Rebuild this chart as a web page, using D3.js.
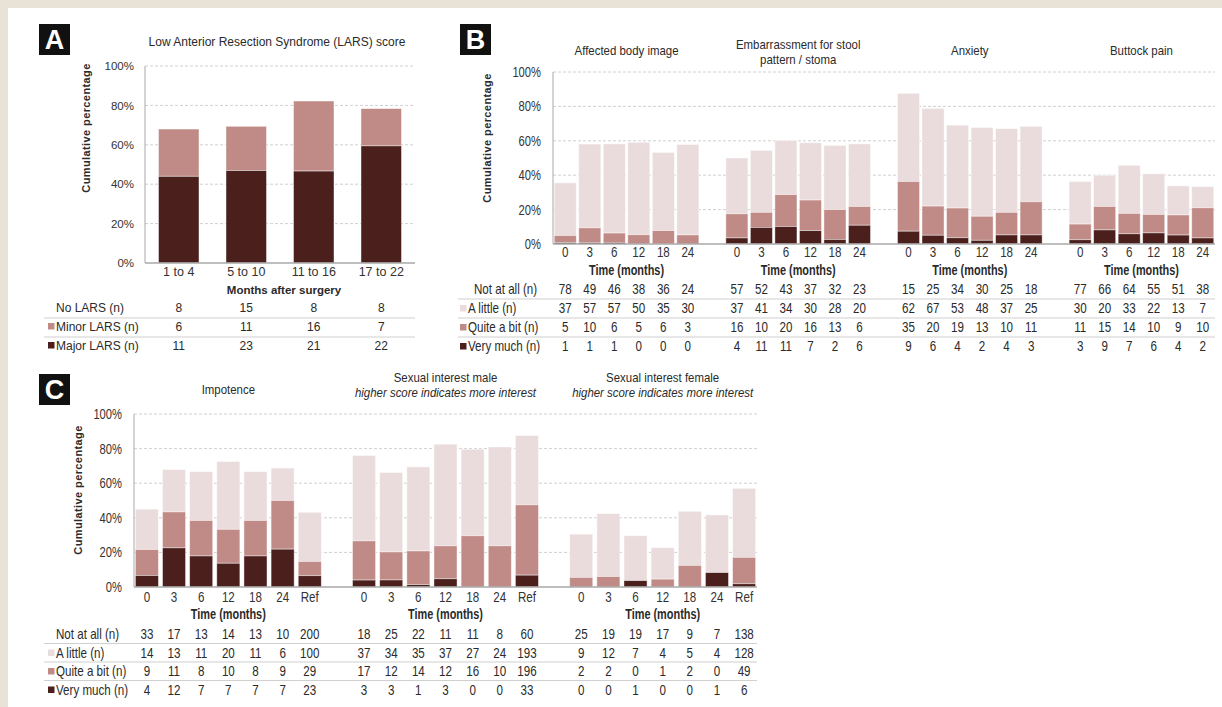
<!DOCTYPE html>
<html>
<head>
<meta charset="utf-8">
<script src="https://cdn.jsdelivr.net/npm/d3@7"></script>
<style>
  html, body { margin: 0; padding: 0; background: #e9e3d7; }
  svg { display: block; }
  text { font-family: "Liberation Sans", Arial, sans-serif; fill: #2a2a2a; }
</style>
</head>
<body>
<svg id="chart" width="1222" height="707"></svg>
<script>
// ---- Panel A: LARS score counts per follow-up window ----
const larsWindows = ["1 to 4", "5 to 10", "11 to 16", "17 to 22"];
const larsNone  = [8, 15, 8, 8];
const larsMinor = [6, 11, 16, 7];
const larsMajor = [11, 23, 21, 22];

// ---- Panel B: quality-of-life items, rows = Not at all / A little / Quite a bit / Very much ----
const timesB = ["0", "3", "6", "12", "18", "24"];
const bodyImage     = [[78, 49, 46, 38, 36, 24], [37, 57, 57, 50, 35, 30], [5, 10, 6, 5, 6, 3],      [1, 1, 1, 0, 0, 0]];
const embarrassment = [[57, 52, 43, 37, 32, 23], [37, 41, 34, 30, 28, 20], [16, 10, 20, 16, 13, 6],  [4, 11, 11, 7, 2, 6]];
const anxiety       = [[15, 25, 34, 30, 25, 18], [62, 67, 53, 48, 37, 25], [35, 20, 19, 13, 10, 11], [9, 6, 4, 2, 4, 3]];
const buttockPain   = [[77, 66, 64, 55, 51, 38], [30, 20, 33, 22, 13, 7],  [11, 15, 14, 10, 9, 10],  [3, 9, 7, 6, 4, 2]];

// ---- Panel C: sexual function items, last column = reference population ----
const timesC = ["0", "3", "6", "12", "18", "24", "Ref"];
const impotence      = [[33, 17, 13, 14, 13, 10, 200], [14, 13, 11, 20, 11, 6, 100], [9, 11, 8, 10, 8, 9, 29],     [4, 12, 7, 7, 7, 7, 23]];
const interestMale   = [[18, 25, 22, 11, 11, 8, 60],   [37, 34, 35, 37, 27, 24, 193], [17, 12, 14, 12, 16, 10, 196], [3, 3, 1, 3, 0, 0, 33]];
const interestFemale = [[25, 19, 19, 17, 9, 7, 138],   [9, 12, 7, 4, 5, 4, 128],     [2, 2, 0, 1, 2, 0, 49],        [0, 0, 1, 0, 0, 1, 6]];

const yTicks = [0, 0.2, 0.4, 0.6, 0.8, 1.0];
const rowLabelsQ = ["Not at all (n)", "A little (n)", "Quite a bit (n)", "Very much (n)"];

const colDark = "#4a1f1c", colMid = "#c08b87", colLight = "#eadcdc";
const gridCol = "#c4c4c4", axisCol = "#a9a9a9", ruleCol = "#d0d0d0";

// condensed lettering for panels B and C (horizontal squeeze of the sans face)
const NARROW = 0.8;
const FS = 14.5;
const TITLE_FS = 13, TITLE_SX = 0.88, TITLE_GAP = 15;

const svg = d3.select("#chart");
svg.append("rect").attr("x", 8).attr("y", 8).attr("width", 1214).attr("height", 699).attr("fill", "#fff");

function label(g, x, y, str, size, sx, opts = {}) {
  const t = g.append("text")
    .attr("transform", `translate(${x},${y}) scale(${sx},1)`)
    .attr("text-anchor", opts.anchor || "start")
    .attr("font-size", size)
    .text(str);
  if (opts.bold) t.attr("font-weight", "bold");
  if (opts.italic) t.attr("font-style", "italic");
  if (opts.fill) t.style("fill", opts.fill);
  return t;
}

function panelLetter(letter, x, y) {
  svg.append("rect").attr("x", x).attr("y", y).attr("width", 31).attr("height", 31).attr("fill", "#111");
  svg.append("text").attr("x", x + 15.5).attr("y", y + 25).attr("text-anchor", "middle")
    .attr("font-size", 27).attr("font-weight", "bold").style("fill", "#fff").text(letter);
}

// Shared value axis: dashed gridlines and percent labels
function valueAxis(g, y, x0, x1, labelX, size, sx) {
  const p = d3.format(".0%");
  g.selectAll("line.grid").data(yTicks.filter(t => t > 0)).join("line")
    .attr("x1", x0).attr("x2", x1).attr("y1", d => y(d)).attr("y2", d => y(d))
    .attr("stroke", gridCol).attr("stroke-dasharray", "3,2").attr("stroke-width", 0.8);
  yTicks.forEach(t => label(g, labelX, y(t) + size * 0.36, p(t), size, sx, { anchor: "end", fill: "#333" }));
}
function axisLines(g, y, x0, x1) {
  g.append("line").attr("x1", x0).attr("x2", x0).attr("y1", y(1)).attr("y2", y(0))
    .attr("stroke", axisCol).attr("stroke-width", 1);
  g.append("line").attr("x1", x0).attr("x2", x1).attr("y1", y(0)).attr("y2", y(0))
    .attr("stroke", axisCol).attr("stroke-width", 1.6);
}
function yTitle(x, cy) {
  svg.append("text").attr("transform", `translate(${x},${cy}) rotate(-90)`)
    .attr("text-anchor", "middle").attr("font-size", 11).attr("font-weight", "bold")
    .attr("letter-spacing", 0.4).text("Cumulative percentage");
}
// counts = [veryMuch (major), quiteABit (minor), aLittle, total]
function stackedBar(g, x, y, key, w, counts) {
  const [vm, qb, al, total] = counts;
  const segs = [
    { a: vm + qb, b: vm + qb + al, c: colLight },
    { a: vm, b: vm + qb, c: colMid },
    { a: 0, b: vm, c: colDark }
  ];
  segs.forEach(s => {
    if (s.b - s.a <= 0) return;
    g.append("rect").attr("x", x(key)).attr("width", w)
      .attr("y", y(s.b / total)).attr("height", y(s.a / total) - y(s.b / total))
      .attr("fill", s.c).attr("stroke", "#fff").attr("stroke-opacity", 0.55).attr("stroke-width", 0.8);
  });
}
function tableRows(g, rows, baselines, keys, xCenter, size, sx, rule) {
  if (rule) rule.ys.forEach(ry => g.append("line").attr("x1", rule.x0).attr("x2", rule.x1).attr("y1", ry).attr("y2", ry)
    .attr("stroke", ruleCol).attr("stroke-width", 1.2));
  rows.forEach((r, i) => {
    if (r.swatch) {
      g.append("rect").attr("x", r.lx - 8).attr("y", baselines[i] - 8).attr("width", 6.5).attr("height", 6.5).attr("fill", r.swatch);
    }
    if (r.label) label(g, r.lx, baselines[i], r.label, size, sx);
    r.values.forEach((v, j) => label(g, xCenter(keys[j]), baselines[i], v, size, sx, { anchor: "middle" }));
  });
}

// ================= Panel A =================
(function () {
  const g = svg.append("g");
  panelLetter("A", 39, 24);
  label(g, 277, 46, "Low Anterior Resection Syndrome (LARS) score", 12, 1, { anchor: "middle" });
  const x = d3.scaleBand().domain(larsWindows).range([145, 415]).paddingInner(0.4).paddingOuter(0.2);
  const y = d3.scaleLinear().domain([0, 1]).range([263, 66]);
  const cx = k => x(k) + x.bandwidth() / 2;
  valueAxis(g, y, 145, 415, 134, 11.5, 1);
  larsWindows.forEach((k, i) => {
    const total = larsNone[i] + larsMinor[i] + larsMajor[i];
    stackedBar(g, x, y, k, x.bandwidth(), [larsMajor[i], larsMinor[i], 0, total]);
  });
  axisLines(g, y, 145, 415);
  larsWindows.forEach(k => label(g, cx(k), 276, k, 12.5, 1, { anchor: "middle", fill: "#333" }));
  label(g, 284, 294, "Months after surgery", 11.5, 1, { anchor: "middle", bold: true });
  yTitle(90, 128);
  tableRows(g, [
      { label: "No LARS (n)", values: larsNone, lx: 56 },
      { label: "Minor LARS  (n)", values: larsMinor, lx: 56, swatch: colMid },
      { label: "Major LARS (n)", values: larsMajor, lx: 56, swatch: colDark }
    ], [312, 331, 350], larsWindows, cx, 12, 1, { x0: 44, x1: 415, ys: [318, 337] });
})();

// ================= Panel B =================
(function () {
  const g = svg.append("g");
  panelLetter("B", 460, 24);
  const groups = [
    { title: ["Affected body image"], data: bodyImage },
    { title: ["Embarrassment for stool", "pattern / stoma"], data: embarrassment },
    { title: ["Anxiety"], data: anxiety },
    { title: ["Buttock pain"], data: buttockPain }
  ];
  // one band per bar, with an empty band between item groups
  const slots = [];
  groups.forEach((gr, gi) => {
    timesB.forEach(t => slots.push(`${gi}-${t}`));
    if (gi < groups.length - 1) slots.push(`gap${gi}`);
  });
  const x = d3.scaleBand().domain(slots).range([553, 1215]).paddingInner(0.1).paddingOuter(0.05);
  const y = d3.scaleLinear().domain([0, 1]).range([244, 72]);
  const cx = k => x(k) + x.bandwidth() / 2;
  valueAxis(g, y, 553, 1215, 541, 14, NARROW);
  const swB = [null, colLight, colMid, colDark];
  const lxB = [474, 468, 468, 468];
  groups.forEach((gr, gi) => {
    const keys = timesB.map(t => `${gi}-${t}`);
    keys.forEach((k, j) => {
      const [na, al, qb, vm] = gr.data.map(r => r[j]);
      stackedBar(g, x, y, k, x.bandwidth(), [vm, qb, al, na + al + qb + vm]);
    });
    const mid = (cx(keys[0]) + cx(keys[keys.length - 1])) / 2;
    const tY = gr.title.length === 1 ? 55 : 49;
    gr.title.forEach((line, li) => label(g, mid, tY + li * TITLE_GAP, line, TITLE_FS, TITLE_SX, { anchor: "middle" }));
    keys.forEach((k, j) => label(g, cx(k), 257, timesB[j], FS, NARROW, { anchor: "middle", fill: "#333" }));
    label(g, mid, 275, "Time (months)", 14, 0.78, { anchor: "middle", bold: true });
    tableRows(g, gr.data.map((r, i) => ({
        label: gi === 0 ? rowLabelsQ[i] : null, values: r, lx: lxB[i], swatch: gi === 0 ? swB[i] : null
      })), [294, 313, 332, 351], keys, cx, FS, NARROW,
      gi === 0 ? { x0: 458, x1: 1215, ys: [299, 318, 337] } : null);
  });
  axisLines(g, y, 553, 1215);
  yTitle(491, 138);
})();

// ================= Panel C =================
(function () {
  const g = svg.append("g");
  panelLetter("C", 39, 374);
  const groups = [
    { title: ["Impotence"], data: impotence },
    { title: ["Sexual interest male", "higher score indicates more interest"], data: interestMale },
    { title: ["Sexual interest female", "higher score indicates more interest"], data: interestFemale }
  ];
  const slots = [];
  groups.forEach((gr, gi) => {
    timesC.forEach(t => slots.push(`${gi}-${t}`));
    if (gi < groups.length - 1) slots.push(`gap${gi}`);
  });
  const x = d3.scaleBand().domain(slots).range([134, 757]).paddingInner(0.15).paddingOuter(0.05);
  const y = d3.scaleLinear().domain([0, 1]).range([587, 414]);
  const cx = k => x(k) + x.bandwidth() / 2;
  valueAxis(g, y, 134, 757, 122, 14, NARROW);
  const swC = [null, colLight, colMid, colDark];
  groups.forEach((gr, gi) => {
    const keys = timesC.map(t => `${gi}-${t}`);
    keys.forEach((k, j) => {
      const [na, al, qb, vm] = gr.data.map(r => r[j]);
      stackedBar(g, x, y, k, x.bandwidth(), [vm, qb, al, na + al + qb + vm]);
    });
    const mid = (cx(keys[0]) + cx(keys[keys.length - 1])) / 2;
    if (gr.title.length === 1) {
      label(g, mid, 394, gr.title[0], TITLE_FS, TITLE_SX, { anchor: "middle" });
    } else {
      label(g, mid, 382, gr.title[0], TITLE_FS, TITLE_SX, { anchor: "middle" });
      label(g, mid, 382 + TITLE_GAP, gr.title[1], TITLE_FS, TITLE_SX, { anchor: "middle", italic: true });
    }
    keys.forEach((k, j) => label(g, cx(k), 602, timesC[j], FS, NARROW, { anchor: "middle", fill: "#333" }));
    label(g, mid, 618.5, "Time (months)", 14, 0.78, { anchor: "middle", bold: true });
    tableRows(g, gr.data.map((r, i) => ({
        label: gi === 0 ? rowLabelsQ[i] : null, values: r, lx: 56, swatch: gi === 0 ? swC[i] : null
      })), [639, 657.5, 676, 694.5], keys, cx, FS, NARROW,
      gi === 0 ? { x0: 44, x1: 757, ys: [643.5, 662, 680.5] } : null);
  });
  axisLines(g, y, 134, 757);
  yTitle(82, 490);
})();
</script>
</body>
</html>
